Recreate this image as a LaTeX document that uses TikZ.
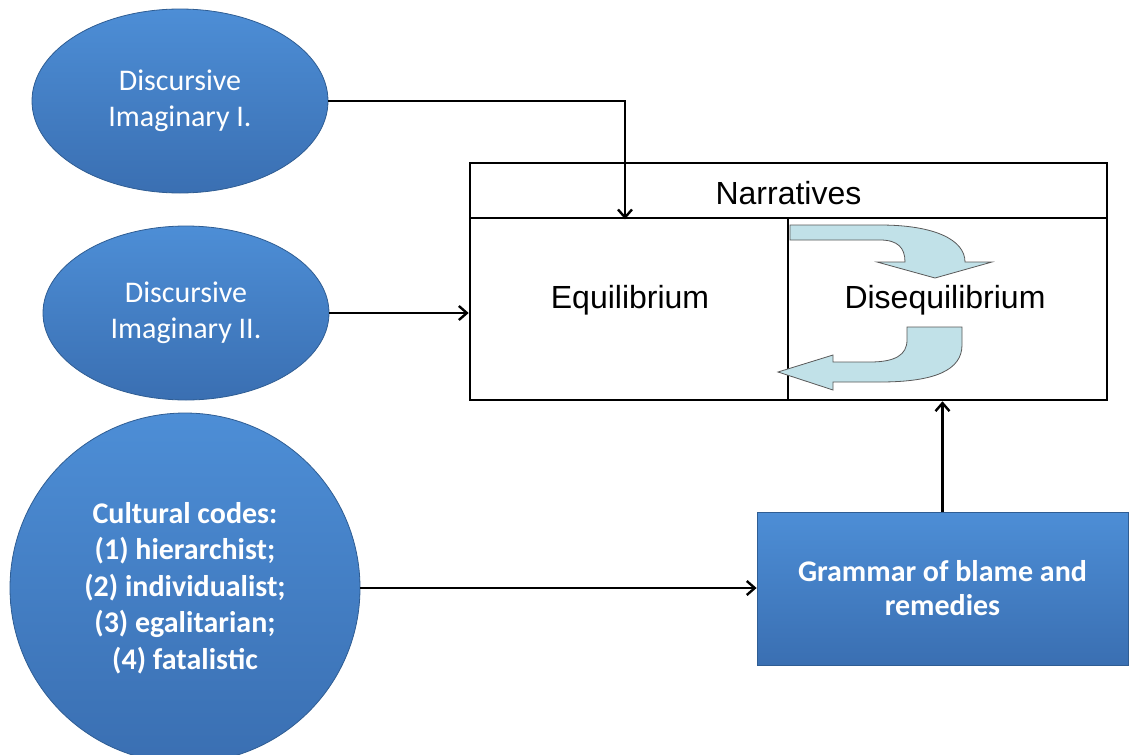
\documentclass[tikz,border=0pt]{standalone}
\usepackage{fontspec}
\setmainfont{Carlito}
\newfontfamily\arialf{Liberation Sans}
\usetikzlibrary{shapes.geometric,arrows.meta}
\definecolor{blueT}{HTML}{4D8ED6}
\definecolor{blueB}{HTML}{3A6FB2}
\definecolor{blueE}{HTML}{2F5D93}
\definecolor{cyanA}{HTML}{C1E1E8}
\begin{document}
\begin{tikzpicture}[x=1pt,y=-1pt,
 blob/.style={draw=blueE, line width=0.8pt, top color=blueT, bottom color=blueB, text=white, align=center, font=\fontsize{30}{36}\selectfont, inner sep=0pt},
 cell/.style={draw=black, line width=2.6pt, inner sep=0pt},
 lbl/.style={font=\arialf\fontsize{32}{38}\selectfont, inner sep=0pt},
 conn/.style={draw=black, line width=2.4pt, -{Straight Barb[length=8pt,width=14pt]}},
 turn/.style={fill=cyanA, draw=black!65, line width=0.8pt}]
\useasboundingbox (0,0) rectangle (1130,755);
\clip (0,0) rectangle (1130,755);

% source shapes
\node[blob, ellipse, minimum width=296pt, minimum height=184pt] (e1) at (180,101) {Discursive\\Imaginary I.};
\node[blob, ellipse, minimum width=286pt, minimum height=174pt] (e2) at (186,313) {Discursive\\Imaginary II.};
\node[blob, circle, minimum size=350pt, font=\bfseries\fontsize{30}{36.5}\selectfont] (cc) at (185,588) {Cultural codes:\\(1) hierarchist;\\(2) individualist;\\(3) egalitarian;\\(4) fatalistic};
\node[blob, rectangle, minimum width=371pt, minimum height=153pt, font=\bfseries\fontsize{30}{34}\selectfont] (gb) at (942.5,588.5) {Grammar of blame and\\remedies};

% narratives table
\node[cell, minimum width=637pt, minimum height=55pt] (head) at (788.5,190.5) {};
\node[cell, minimum width=318pt, minimum height=182pt] (eq) at (629,309) {};
\node[cell, minimum width=319pt, minimum height=182pt] (dq) at (947.5,309) {};
\node[lbl] (tn) at (788.5,193) {Narratives};
\node[lbl] (te) at (630,300) {Equilibrium};
\node[lbl] (td) at (945,300) {Disequilibrium};

% curved arrows inside
\path[turn] (790,225) -- (880,225) .. controls (935,225) and (965,240) .. (965,262)
  -- (992,262) -- (935,278) -- (877,262) -- (905,262)
  .. controls (905,248) and (898,240) .. (880,240) -- (790,240) -- cycle;
\path[turn] (907,327) -- (962,327) -- (962,345) .. controls (962,370) and (935,382) .. (880,382)
  -- (833,382) -- (833,390) -- (778,372) -- (833,355) -- (833,362) -- (870,362)
  .. controls (895,362) and (907,355) .. (907,340) -- cycle;

% connectors
\coordinate (k1) at (625,0);
\draw[conn] (e1.east) -| (k1 |- head.south);
\draw[conn] (e2.east) -- (e2.east -| eq.west);
\draw[conn] (cc.east) -- (cc.east -| gb.west);
\draw[conn] (gb.north) -- (gb.north |- dq.south);
\end{tikzpicture}
\end{document}
